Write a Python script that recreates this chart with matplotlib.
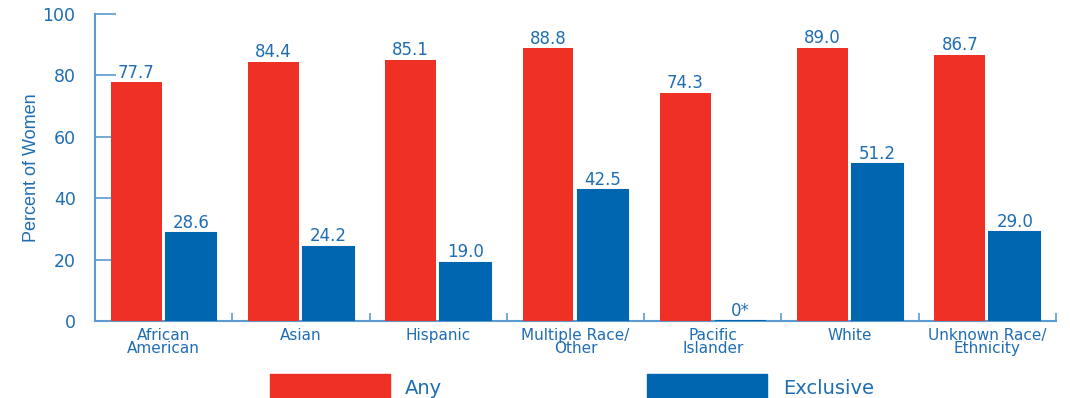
import numpy as np
import matplotlib.pyplot as plt
from matplotlib import font_manager
from matplotlib.patches import Rectangle

groups = ["African\nAmerican", "Asian", "Hispanic", "Multiple Race/\nOther",
          "Pacific\nIslander", "White", "Unknown Race/\nEthnicity"]
any_bf = [77.7, 84.4, 85.1, 88.8, 74.3, 89.0, 86.7]
exclusive_bf = [28.6, 24.2, 19.0, 42.5, 0.0, 51.2, 29.0]
any_labels = ["77.7", "84.4", "85.1", "88.8", "74.3", "89.0", "86.7"]
excl_labels = ["28.6", "24.2", "19.0", "42.5", "0*", "51.2", "29.0"]

red = "#EE3124"
blue = "#0066B0"
txt = "#1F6DB3"
axcol = "#5B9BD0"

plt.rcParams['font.family'] = ['DejaVu Sans']
names = {f.name for f in font_manager.fontManager.ttflist}
narrow = "Liberation Sans Narrow" if "Liberation Sans Narrow" in names else "Liberation Sans"

fig = plt.figure(figsize=(10.70, 3.98), dpi=100)
ax = fig.add_axes([0.0888, 0.1935, 0.898, 0.7715])

x = np.arange(len(groups))
w = 0.37
off = 0.2
ax.bar(x - off, any_bf, w, color=red, zorder=3)
ax.bar(x + off, exclusive_bf, w, color=blue, edgecolor=blue, linewidth=1.5, zorder=3)

for xi, v, s in zip(x - off, any_bf, any_labels):
    ax.text(xi, v + 0.2, s, ha="center", va="bottom", color=txt, fontsize=12)
for xi, v, s in zip(x + off, exclusive_bf, excl_labels):
    ax.text(xi, v + 0.4, s, ha="center", va="bottom", color=txt, fontsize=12)

ax.set_xlim(-0.5, 6.5)
ax.set_ylim(0, 100)
ax.set_yticks([0, 20, 40, 60, 80, 100])
ax.set_xticks(x)
ax.set_xticklabels(groups, fontsize=11, color=txt, linespacing=0.8)
ax.set_xticks(np.arange(0.5, 7, 1), minor=True)
ax.tick_params(axis="x", which="major", length=0, pad=5)
ax.tick_params(axis="x", which="minor", direction="in", length=6, color=axcol, width=1.2)
ax.tick_params(axis="y", direction="in", length=15, color=axcol, width=1.2,
               labelsize=12.5, labelcolor=txt, pad=14)
for s in ["top", "right"]:
    ax.spines[s].set_visible(False)
ax.spines["left"].set_color(axcol)
ax.spines["bottom"].set_color(axcol)
ax.spines["left"].set_linewidth(1.5)
ax.spines["bottom"].set_linewidth(1.5)
ax.set_ylabel("Percent of Women", color=txt, fontsize=13, family=narrow, labelpad=2)

fig.add_artist(Rectangle((270 / 1070, -0.01), 120 / 1070, 28 / 398,
                         transform=fig.transFigure, color=red))
fig.add_artist(Rectangle((647 / 1070, -0.01), 120 / 1070, 28 / 398,
                         transform=fig.transFigure, color=blue))
fig.text(405 / 1070, 9 / 398, "Any", color=txt, fontsize=14, va="center")
fig.text(783 / 1070, 9 / 398, "Exclusive", color=txt, fontsize=14, va="center")

fig.savefig("out.png", dpi=100)
